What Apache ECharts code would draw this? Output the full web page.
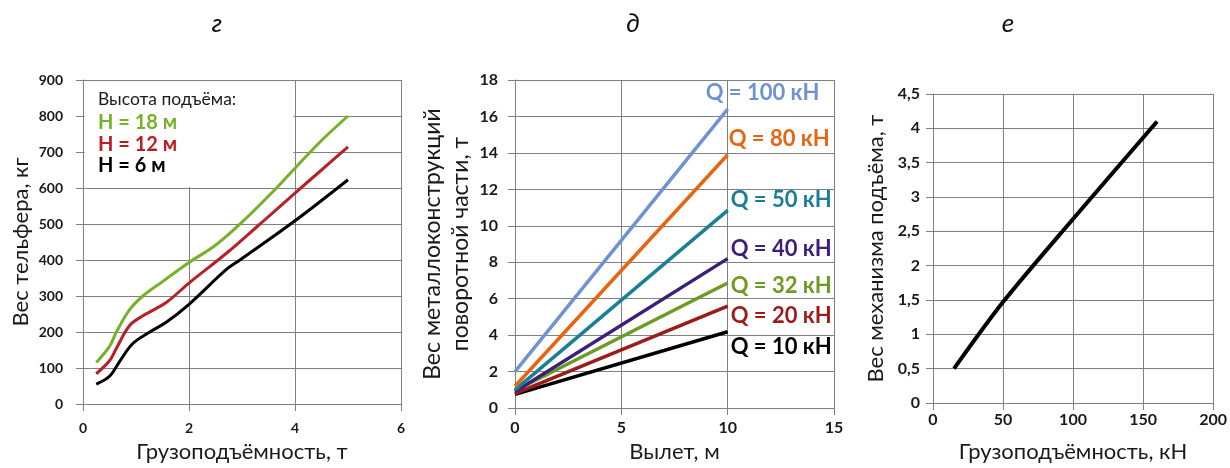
<!DOCTYPE html>
<html><head><meta charset="utf-8">
<script src="https://cdn.jsdelivr.net/npm/echarts@6/dist/echarts.min.js"></script>
<style>html,body{margin:0;padding:0;background:#fff}#c{width:1230px;height:468px}</style>
</head><body><div id="c"></div>
<script>
// ---- Panel г : hoist weight vs capacity ----
const g_h18_x = [0.25, 0.5, 0.63, 0.88, 1.13, 1.5, 2.0, 2.5, 3.0, 3.65, 4.0, 4.5, 5.0];
const g_h18_y = [115, 160, 200, 262, 300, 340, 393, 441, 505, 600, 655, 732, 800];
const g_h12_x = [0.25, 0.5, 0.63, 0.88, 1.13, 1.57, 2.0, 2.7, 3.34, 4.0, 4.5, 5.0];
const g_h12_y = [84, 120, 155, 218, 245, 282, 336, 418, 500, 586, 650, 714];
const g_h6_x = [0.25, 0.5, 0.69, 0.94, 1.26, 1.57, 2.0, 2.7, 2.96, 4.0, 5.0];
const g_h6_y = [55, 77, 118, 168, 200, 227, 277, 373, 400, 509, 623];
const g_legendTitle = 'Высота подъёма:';
const g_names = ['H = 18 м', 'H = 12 м', 'H = 6 м'];

// ---- Panel д : slewing part weight vs outreach ----
const d_x = [0, 10];
const d_names = ['Q = 100 кН', 'Q = 80 кН', 'Q = 50 кН', 'Q = 40 кН', 'Q = 32 кН', 'Q = 20 кН', 'Q = 10 кН'];
const d_q100 = [2.0, 16.4];
const d_q80 = [1.2, 13.9];
const d_q50 = [1.0, 10.85];
const d_q40 = [0.9, 8.2];
const d_q32 = [0.95, 6.86];
const d_q20 = [0.8, 5.6];
const d_q10 = [0.75, 4.19];

// ---- Panel е : hoist mechanism weight vs capacity ----
const e_x = [15, 50, 100, 160];
const e_y = [0.5, 1.47, 2.68, 4.1];

const panelLetters = ['г', 'д', 'е'];

const FONT = 'Lato';
const GRID = '#808080';
const TXT = '#1a1a1a';

function zip(xs, ys) { return xs.map((x, i) => [x, ys[i]]); }

function axisCommon() {
  return {
    axisLine: { show: true, onZero: false, lineStyle: { color: GRID, width: 1 } },
    axisTick: { show: true, length: 7, lineStyle: { color: GRID, width: 1 } },
    splitLine: { show: true, lineStyle: { color: GRID, width: 1 } },
    nameTextStyle: { fontFamily: FONT, fontSize: 22, color: TXT },
  };
}

const chart = echarts.init(document.getElementById('c'), null, { renderer: 'canvas' });

const dColors = ['#6f93d0', '#e8640f', '#1a7e97', '#3b1f78', '#6b9b22', '#9e1b1b', '#000000'];
const dSeries = [d_q100, d_q80, d_q50, d_q40, d_q32, d_q20, d_q10];
const dOffsets = [[-22, -16], [1, -16], [3, -10], [3, -10], [3, 3], [3, 10], [3, 15]];

const series = [];
const gColors = ['#76b12a', '#b82025', '#000000'];
[[g_h18_x, g_h18_y], [g_h12_x, g_h12_y], [g_h6_x, g_h6_y]].forEach((s, i) => {
  const ser = {
    type: 'line', name: g_names[i], xAxisIndex: 0, yAxisIndex: 0,
    data: zip(s[0], s[1]), smooth: 0.35, symbol: 'none',
    lineStyle: { color: gColors[i], width: 3 }, z: 3,
  };
  if (i === 0) {
    ser.markArea = {
      silent: true, z: 1,
      itemStyle: { color: '#ffffff', opacity: 1 },
      data: [[{ coord: [0.03, 603] }, { coord: [3.97, 897] }]],
    };
  }
  series.push(ser);
});
dSeries.forEach((ys, i) => {
  series.push({
    type: 'line', name: d_names[i], xAxisIndex: 1, yAxisIndex: 1,
    data: zip(d_x, ys), symbol: 'none',
    lineStyle: { color: dColors[i], width: 3.5 },
    z: 10 - i,
    endLabel: {
      show: true, formatter: d_names[i], distance: 0, offset: dOffsets[i],
      fontFamily: FONT, fontWeight: 'bold', fontSize: 22, color: dColors[i],
    },
  });
});
series.push({
  type: 'line', name: 'e', xAxisIndex: 2, yAxisIndex: 2,
  data: zip(e_x, e_y), symbol: 'none', smooth: 0.3,
  lineStyle: { color: '#000', width: 4 },
});

const lbl = (size, margin, fmt) => ({
  fontFamily: FONT, fontWeight: 'bold', fontSize: size, color: TXT, margin: margin,
  formatter: fmt,
});
const comma = v => String(v).replace('.', ',');

const option = {
  animation: false,
  backgroundColor: '#fff',
  title: panelLetters.map((t, i) => ({
    text: t, left: [212, 628, 1003][i], top: 6, textAlign: 'center',
    textStyle: { fontFamily: FONT, fontStyle: 'italic', fontWeight: 'normal', fontSize: 26, color: '#111' },
  })),
  grid: [
    { left: 83, right: 829, top: 80, bottom: 58 },
    { left: 515, right: 396, top: 80, bottom: 51 },
    { left: 933, right: 14, top: 94, bottom: 55 },
  ],
  xAxis: [
    Object.assign(axisCommon(), {
      type: 'value', gridIndex: 0, min: 0, max: 6, interval: 2,
      name: 'Грузоподъёмность, т', nameLocation: 'middle', nameGap: 37,
      axisLabel: lbl(14, 17),
    }),
    Object.assign(axisCommon(), {
      type: 'value', gridIndex: 1, min: 0, max: 15, interval: 5,
      name: 'Вылет, м', nameLocation: 'middle', nameGap: 31,
      axisLabel: lbl(16, 12),
    }),
    Object.assign(axisCommon(), {
      type: 'value', gridIndex: 2, min: 0, max: 200, interval: 50,
      name: 'Грузоподъёмность, кН', nameLocation: 'middle', nameGap: 38,
      axisLabel: lbl(16, 9),
    }),
  ],
  yAxis: [
    Object.assign(axisCommon(), {
      type: 'value', gridIndex: 0, min: 0, max: 900, interval: 100,
      name: 'Вес тельфера, кг', nameLocation: 'middle', nameGap: 51,
      axisLabel: lbl(14, 20),
    }),
    Object.assign(axisCommon(), {
      type: 'value', gridIndex: 1, min: 0, max: 18, interval: 2,
      name: 'Вес металлоконструкций\nповоротной части, т', nameLocation: 'middle', nameGap: 40,
      axisLabel: lbl(16, 17),
    }),
    Object.assign(axisCommon(), {
      type: 'value', gridIndex: 2, min: 0, max: 4.5, interval: 0.5,
      name: 'Вес механизма подъёма, т', nameLocation: 'middle', nameGap: 46,
      axisLabel: lbl(16, 13, comma),
    }),
  ],
  graphic: [
    { type: 'text', left: 98, top: 90, z: 20,
      style: { text: g_legendTitle, fontFamily: FONT, fontSize: 17.5, fill: TXT } },
    { type: 'text', left: 98, top: 113, z: 20,
      style: { text: g_names[0], fontFamily: FONT, fontSize: 20, fontWeight: 'bold', fill: gColors[0] } },
    { type: 'text', left: 98, top: 135, z: 20,
      style: { text: g_names[1], fontFamily: FONT, fontSize: 20, fontWeight: 'bold', fill: gColors[1] } },
    { type: 'text', left: 98, top: 156, z: 20,
      style: { text: g_names[2], fontFamily: FONT, fontSize: 20, fontWeight: 'bold', fill: gColors[2] } },
  ],
  series: series,
};
option.yAxis[1].nameTextStyle.lineHeight = 28;
option.yAxis[1].nameTextStyle.fontSize = 23;
chart.setOption(option);
</script>
</body></html>
